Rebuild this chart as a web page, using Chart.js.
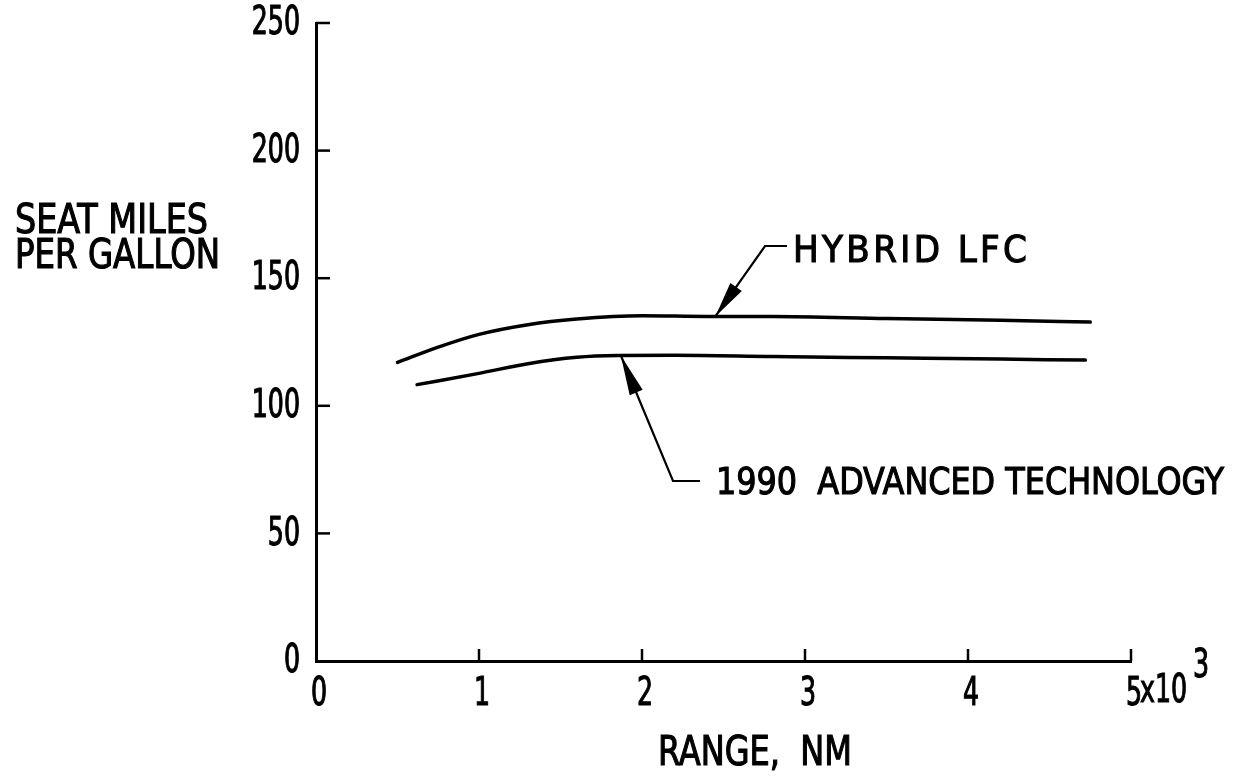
<!DOCTYPE html>
<html>
<head>
<meta charset="utf-8">
<script src="https://cdn.jsdelivr.net/npm/chart.js@4.4.1/dist/chart.umd.min.js"></script>
<style>
  html, body { margin: 0; padding: 0; background: #fff; }
  #wrap { width: 1237px; height: 777px; }
</style>
</head>
<body>
<div id="wrap"><canvas id="fuelChart" width="1237" height="777"></canvas></div>
<script>
// values (range in thousands of NM, seat miles per gallon)
const hybridRange = [0.5, 0.75, 1.0, 1.3, 1.6, 2.0, 2.4, 2.8, 3.5, 4.2, 4.75]
const hybridSmpg = [117, 123, 128, 131.8, 134, 135.3, 135, 135, 134.2, 133.5, 132.8]

const advRange = [0.62, 1.0, 1.3, 1.6, 1.85, 2.2, 2.8, 3.5, 4.2, 4.72]
const advSmpg = [108.3, 112.7, 116.5, 119, 119.7, 119.8, 119.3, 118.8, 118.3, 117.9]

const xTicks = [0, 1, 2, 3, 4, 5]
const yTicks = [0, 50, 100, 150, 200, 250]

// where the callout arrows touch the curves
const hybridArrowAt = { x: 2.45, y: 135 }
const advArrowAt = { x: 1.87, y: 119.7 }

const FONT = "'DejaVu Sans Condensed', 'Liberation Sans Narrow', sans-serif"
const DIGIT_SQUEEZE = 0.72   // the original digits are much narrower than any installed font

// draw text squeezed horizontally; with a width, fit to it (letter spacing if still short)
function narrowText(ctx, text, x, y, align, width, minSqueeze) {
    ctx.save()
    ctx.letterSpacing = '0px'
    const natural = ctx.measureText(text).width
    let squeeze = DIGIT_SQUEEZE
    let w = natural * squeeze
    if (width) {
        squeeze = Math.max(minSqueeze || 0.8, Math.min(1, width / natural))
        w = natural * squeeze
        if (width > w) {
            ctx.letterSpacing = ((width - w) / (text.length - 1) / squeeze) + 'px'
            w = width
        }
    }
    let startX = x
    if (align === 'right') startX = x - w
    if (align === 'center') startX = x - w / 2
    ctx.translate(startX, y)
    ctx.scale(squeeze, 1)
    ctx.textAlign = 'left'
    ctx.lineWidth = 1.1
    ctx.fillText(text, 0, 0)
    ctx.strokeText(text, 0, 0)
    ctx.restore()
}

function arrowHead(ctx, fromX, fromY, tipX, tipY, len, half) {
    const a = Math.atan2(tipY - fromY, tipX - fromX)
    const bx = tipX - len * Math.cos(a)
    const by = tipY - len * Math.sin(a)
    ctx.beginPath()
    ctx.moveTo(tipX, tipY)
    ctx.lineTo(bx + half * Math.sin(a), by - half * Math.cos(a))
    ctx.lineTo(bx - half * Math.sin(a), by + half * Math.cos(a))
    ctx.closePath()
    ctx.fill()
}

const decorations = {
    id: 'decorations',
    afterDraw(chart) {
        const ctx = chart.ctx
        const xs = chart.scales.x
        const ys = chart.scales.y
        ctx.save()
        ctx.strokeStyle = '#000'
        ctx.fillStyle = '#000'
        ctx.lineWidth = 2.5

        // inward tick marks
        xTicks.slice(1).forEach(v => {
            const px = xs.getPixelForValue(v)
            ctx.beginPath()
            ctx.moveTo(px, ys.bottom)
            ctx.lineTo(px, ys.bottom - 12)
            ctx.stroke()
        })
        yTicks.slice(1).forEach(v => {
            const py = ys.getPixelForValue(v)
            ctx.beginPath()
            ctx.moveTo(xs.left, py)
            ctx.lineTo(xs.left + 14, py)
            ctx.stroke()
        })

        // tick labels from the scales
        ctx.font = '39px ' + FONT
        ctx.textBaseline = 'middle'
        ys.ticks.forEach((t, i) => {
            narrowText(ctx, String(t.value), xs.left - 16, ys.getPixelForTick(i) + 1, 'right')
        })
        ctx.textBaseline = 'alphabetic'
        xs.ticks.forEach((t, i) => {
            narrowText(ctx, String(t.value), xs.getPixelForTick(i) + 3, 705, 'center')
        })

        // x multiplier after the last tick label
        const lastPx = xs.getPixelForValue(5)
        narrowText(ctx, 'x10', lastPx + 9, 702, 'left')
        narrowText(ctx, '3', lastPx + 62, 677, 'left')

        // axis titles
        ctx.font = '40px ' + FONT
        narrowText(ctx, 'SEAT MILES', 15, 233, 'left', 193)
        narrowText(ctx, 'PER GALLON', 15, 268, 'left', 205)
        narrowText(ctx, 'RANGE,  NM', 658, 765, 'left', 194)

        // HYBRID LFC callout
        ctx.lineWidth = 2.2
        const hx = xs.getPixelForValue(hybridArrowAt.x)
        const hy = ys.getPixelForValue(hybridArrowAt.y)
        ctx.beginPath()
        ctx.moveTo(787, 246)
        ctx.lineTo(765, 246)
        ctx.lineTo(hx, hy)
        ctx.stroke()
        arrowHead(ctx, 765, 246, hx, hy, 36, 7)
        ctx.font = '38px ' + FONT
        narrowText(ctx, 'HYBRID LFC', 793, 262, 'left', 234, 0.85)

        // 1990 ADVANCED TECHNOLOGY callout
        const ax = xs.getPixelForValue(advArrowAt.x)
        const ay = ys.getPixelForValue(advArrowAt.y)
        ctx.beginPath()
        ctx.moveTo(700, 481)
        ctx.lineTo(673, 481)
        ctx.lineTo(ax, ay)
        ctx.stroke()
        arrowHead(ctx, 673, 481, ax, ay, 40, 7)
        narrowText(ctx, '1990  ADVANCED TECHNOLOGY', 716, 494, 'left', 508)

        ctx.restore()
    }
}

const fuelChart = new Chart(document.getElementById('fuelChart'), {
    type: 'scatter',
    data: {
        datasets: [{
            label: 'HYBRID LFC',
            data: hybridRange.map((x, i) => ({ x: x, y: hybridSmpg[i] })),
            showLine: true,
            borderColor: '#000',
            borderWidth: 3.5,
            pointRadius: 0,
            cubicInterpolationMode: 'monotone',
            borderCapStyle: 'round'
        }, {
            label: '1990 ADVANCED TECHNOLOGY',
            data: advRange.map((x, i) => ({ x: x, y: advSmpg[i] })),
            showLine: true,
            borderColor: '#000',
            borderWidth: 3.5,
            pointRadius: 0,
            cubicInterpolationMode: 'monotone',
            borderCapStyle: 'round'
        }]
    },
    options: {
        responsive: false,
        animation: false,
        devicePixelRatio: 1,
        layout: { padding: { top: 23, right: 106, bottom: 0, left: 0 } },
        plugins: { legend: { display: false }, tooltip: { enabled: false } },
        scales: {
            x: {
                type: 'linear',
                min: 0,
                max: 5,
                afterBuildTicks: scale => { scale.ticks = xTicks.map(v => ({ value: v })) },
                afterFit: scale => { scale.height = 116 },
                grid: { display: false, drawTicks: false },
                border: { display: true, color: '#000', width: 3 },
                ticks: { display: false }
            },
            y: {
                type: 'linear',
                min: 0,
                max: 250,
                afterBuildTicks: scale => { scale.ticks = yTicks.map(v => ({ value: v })) },
                afterFit: scale => { scale.width = 316 },
                grid: { display: false, drawTicks: false },
                border: { display: true, color: '#000', width: 3 },
                ticks: { display: false }
            }
        }
    },
    plugins: [decorations]
})
</script>
</body>
</html>
